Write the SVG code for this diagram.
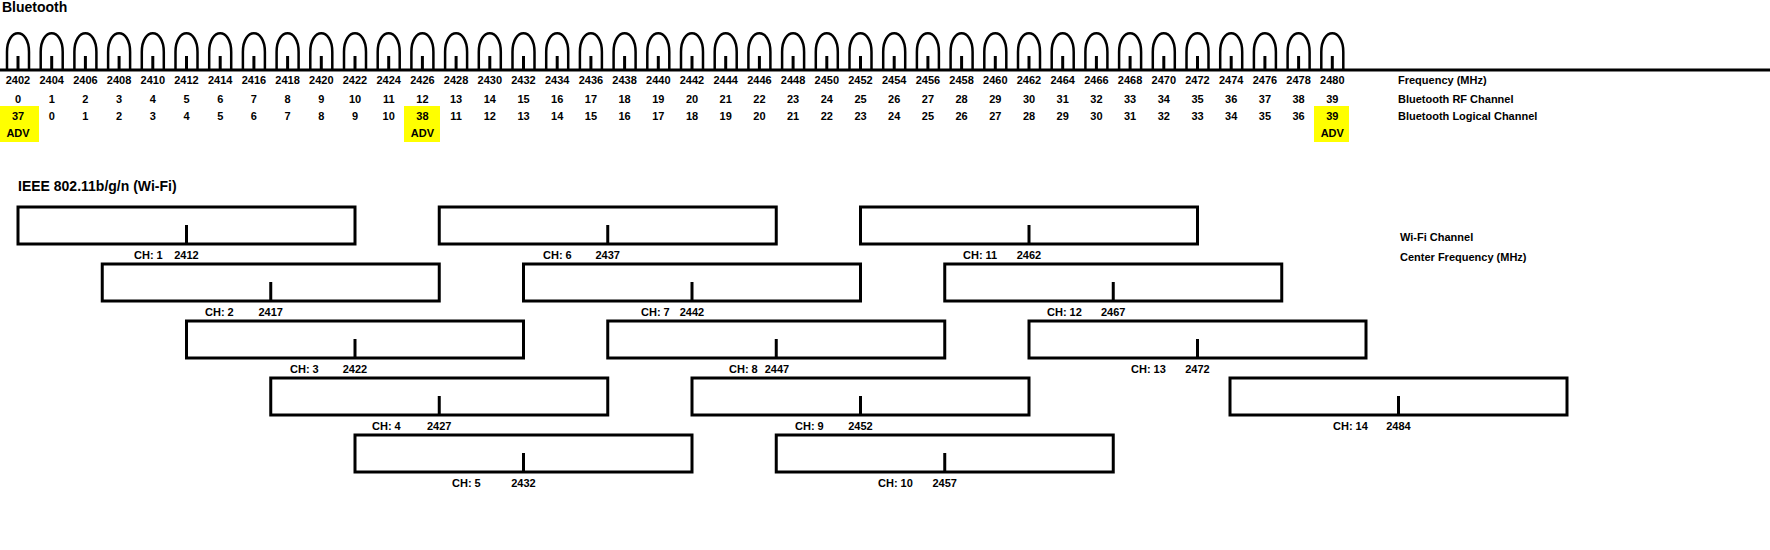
<svg xmlns="http://www.w3.org/2000/svg" xmlns:xlink="http://www.w3.org/1999/xlink" width="1770" height="550" viewBox="0 0 1770 550">
<style>
text{font-family:"Liberation Sans",Arial,sans-serif;font-weight:bold;font-size:11px;fill:#000}
.c{text-anchor:middle}
.t{font-size:14px}
.bx{fill:none;stroke:#000;stroke-width:3}
.st{stroke:#000;stroke-width:3}
.arc{fill:none;stroke:#000;stroke-width:2.5}
</style>
<defs>
<g id="bump"><path class="arc" d="M-11,70 V52 C-11,27 11,27 11,52 V70"/><line class="st" x1="0" y1="56" x2="0" y2="70"/></g>
<g id="wbox"><rect class="bx" x="-168.5" y="0" width="337" height="37"/><line class="st" x1="0" y1="18" x2="0" y2="37"/></g>
</defs>
<rect x="0" y="0" width="1770" height="550" fill="#fff"/>
<text class="t" x="2" y="12">Bluetooth</text>
<text class="t" x="18" y="191">IEEE 802.11b/g/n (Wi-Fi)</text>
<g id="bt-highlights" fill="#ffff00">
<rect x="0" y="106" width="39" height="36"/><rect x="404" y="106" width="36" height="36"/><rect x="1314" y="106" width="35" height="36"/>
</g>
<g id="connectors">
<line class="st" x1="0" y1="70" x2="1770" y2="70"/>
<use xlink:href="#bump" x="18"/><use xlink:href="#bump" x="51.7"/><use xlink:href="#bump" x="85.4"/><use xlink:href="#bump" x="119.1"/><use xlink:href="#bump" x="152.8"/><use xlink:href="#bump" x="186.5"/><use xlink:href="#bump" x="220.2"/><use xlink:href="#bump" x="253.9"/><use xlink:href="#bump" x="287.6"/><use xlink:href="#bump" x="321.3"/><use xlink:href="#bump" x="355"/><use xlink:href="#bump" x="388.7"/><use xlink:href="#bump" x="422.4"/><use xlink:href="#bump" x="456.1"/><use xlink:href="#bump" x="489.8"/><use xlink:href="#bump" x="523.5"/><use xlink:href="#bump" x="557.2"/><use xlink:href="#bump" x="590.9"/><use xlink:href="#bump" x="624.6"/><use xlink:href="#bump" x="658.3"/><use xlink:href="#bump" x="692"/><use xlink:href="#bump" x="725.7"/><use xlink:href="#bump" x="759.4"/><use xlink:href="#bump" x="793.1"/><use xlink:href="#bump" x="826.8"/><use xlink:href="#bump" x="860.5"/><use xlink:href="#bump" x="894.2"/><use xlink:href="#bump" x="927.9"/><use xlink:href="#bump" x="961.6"/><use xlink:href="#bump" x="995.3"/><use xlink:href="#bump" x="1029"/><use xlink:href="#bump" x="1062.7"/><use xlink:href="#bump" x="1096.4"/><use xlink:href="#bump" x="1130.1"/><use xlink:href="#bump" x="1163.8"/><use xlink:href="#bump" x="1197.5"/><use xlink:href="#bump" x="1231.2"/><use xlink:href="#bump" x="1264.9"/><use xlink:href="#bump" x="1298.6"/><use xlink:href="#bump" x="1332.3"/>
</g>
<g id="bt-freq">
<text class="c" x="18" y="84">2402</text><text class="c" x="51.7" y="84">2404</text><text class="c" x="85.4" y="84">2406</text><text class="c" x="119.1" y="84">2408</text><text class="c" x="152.8" y="84">2410</text><text class="c" x="186.5" y="84">2412</text><text class="c" x="220.2" y="84">2414</text><text class="c" x="253.9" y="84">2416</text><text class="c" x="287.6" y="84">2418</text><text class="c" x="321.3" y="84">2420</text><text class="c" x="355" y="84">2422</text><text class="c" x="388.7" y="84">2424</text><text class="c" x="422.4" y="84">2426</text><text class="c" x="456.1" y="84">2428</text><text class="c" x="489.8" y="84">2430</text><text class="c" x="523.5" y="84">2432</text><text class="c" x="557.2" y="84">2434</text><text class="c" x="590.9" y="84">2436</text><text class="c" x="624.6" y="84">2438</text><text class="c" x="658.3" y="84">2440</text><text class="c" x="692" y="84">2442</text><text class="c" x="725.7" y="84">2444</text><text class="c" x="759.4" y="84">2446</text><text class="c" x="793.1" y="84">2448</text><text class="c" x="826.8" y="84">2450</text><text class="c" x="860.5" y="84">2452</text><text class="c" x="894.2" y="84">2454</text><text class="c" x="927.9" y="84">2456</text><text class="c" x="961.6" y="84">2458</text><text class="c" x="995.3" y="84">2460</text><text class="c" x="1029" y="84">2462</text><text class="c" x="1062.7" y="84">2464</text><text class="c" x="1096.4" y="84">2466</text><text class="c" x="1130.1" y="84">2468</text><text class="c" x="1163.8" y="84">2470</text><text class="c" x="1197.5" y="84">2472</text><text class="c" x="1231.2" y="84">2474</text><text class="c" x="1264.9" y="84">2476</text><text class="c" x="1298.6" y="84">2478</text><text class="c" x="1332.3" y="84">2480</text>
</g>
<g id="bt-rf">
<text class="c" x="18" y="103">0</text><text class="c" x="51.7" y="103">1</text><text class="c" x="85.4" y="103">2</text><text class="c" x="119.1" y="103">3</text><text class="c" x="152.8" y="103">4</text><text class="c" x="186.5" y="103">5</text><text class="c" x="220.2" y="103">6</text><text class="c" x="253.9" y="103">7</text><text class="c" x="287.6" y="103">8</text><text class="c" x="321.3" y="103">9</text><text class="c" x="355" y="103">10</text><text class="c" x="388.7" y="103">11</text><text class="c" x="422.4" y="103">12</text><text class="c" x="456.1" y="103">13</text><text class="c" x="489.8" y="103">14</text><text class="c" x="523.5" y="103">15</text><text class="c" x="557.2" y="103">16</text><text class="c" x="590.9" y="103">17</text><text class="c" x="624.6" y="103">18</text><text class="c" x="658.3" y="103">19</text><text class="c" x="692" y="103">20</text><text class="c" x="725.7" y="103">21</text><text class="c" x="759.4" y="103">22</text><text class="c" x="793.1" y="103">23</text><text class="c" x="826.8" y="103">24</text><text class="c" x="860.5" y="103">25</text><text class="c" x="894.2" y="103">26</text><text class="c" x="927.9" y="103">27</text><text class="c" x="961.6" y="103">28</text><text class="c" x="995.3" y="103">29</text><text class="c" x="1029" y="103">30</text><text class="c" x="1062.7" y="103">31</text><text class="c" x="1096.4" y="103">32</text><text class="c" x="1130.1" y="103">33</text><text class="c" x="1163.8" y="103">34</text><text class="c" x="1197.5" y="103">35</text><text class="c" x="1231.2" y="103">36</text><text class="c" x="1264.9" y="103">37</text><text class="c" x="1298.6" y="103">38</text><text class="c" x="1332.3" y="103">39</text>
</g>
<g id="bt-logical">
<text class="c" x="18" y="120">37</text><text class="c" x="51.7" y="120">0</text><text class="c" x="85.4" y="120">1</text><text class="c" x="119.1" y="120">2</text><text class="c" x="152.8" y="120">3</text><text class="c" x="186.5" y="120">4</text><text class="c" x="220.2" y="120">5</text><text class="c" x="253.9" y="120">6</text><text class="c" x="287.6" y="120">7</text><text class="c" x="321.3" y="120">8</text><text class="c" x="355" y="120">9</text><text class="c" x="388.7" y="120">10</text><text class="c" x="422.4" y="120">38</text><text class="c" x="456.1" y="120">11</text><text class="c" x="489.8" y="120">12</text><text class="c" x="523.5" y="120">13</text><text class="c" x="557.2" y="120">14</text><text class="c" x="590.9" y="120">15</text><text class="c" x="624.6" y="120">16</text><text class="c" x="658.3" y="120">17</text><text class="c" x="692" y="120">18</text><text class="c" x="725.7" y="120">19</text><text class="c" x="759.4" y="120">20</text><text class="c" x="793.1" y="120">21</text><text class="c" x="826.8" y="120">22</text><text class="c" x="860.5" y="120">23</text><text class="c" x="894.2" y="120">24</text><text class="c" x="927.9" y="120">25</text><text class="c" x="961.6" y="120">26</text><text class="c" x="995.3" y="120">27</text><text class="c" x="1029" y="120">28</text><text class="c" x="1062.7" y="120">29</text><text class="c" x="1096.4" y="120">30</text><text class="c" x="1130.1" y="120">31</text><text class="c" x="1163.8" y="120">32</text><text class="c" x="1197.5" y="120">33</text><text class="c" x="1231.2" y="120">34</text><text class="c" x="1264.9" y="120">35</text><text class="c" x="1298.6" y="120">36</text><text class="c" x="1332.3" y="120">39</text>
<text class="c" x="18" y="137">ADV</text><text class="c" x="422.4" y="137">ADV</text><text class="c" x="1332.3" y="137">ADV</text>
</g>
<g id="legend">
<text x="1398" y="84">Frequency (MHz)</text><text x="1398" y="103">Bluetooth RF Channel</text><text x="1398" y="120">Bluetooth Logical Channel</text>
<text x="1400" y="241">Wi-Fi Channel</text><text x="1400" y="261">Center Frequency (MHz)</text>
</g>
<g id="ch1"><use xlink:href="#wbox" x="186.5" y="207"/><text x="134" y="259">CH: 1</text><text class="c" x="186.5" y="259">2412</text></g>
<g id="ch2"><use xlink:href="#wbox" x="270.75" y="264"/><text x="205" y="316">CH: 2</text><text class="c" x="270.75" y="316">2417</text></g>
<g id="ch3"><use xlink:href="#wbox" x="355" y="321"/><text x="290" y="373">CH: 3</text><text class="c" x="355" y="373">2422</text></g>
<g id="ch4"><use xlink:href="#wbox" x="439.25" y="378"/><text x="372" y="430">CH: 4</text><text class="c" x="439.25" y="430">2427</text></g>
<g id="ch5"><use xlink:href="#wbox" x="523.5" y="435"/><text x="452" y="487">CH: 5</text><text class="c" x="523.5" y="487">2432</text></g>
<g id="ch6"><use xlink:href="#wbox" x="607.75" y="207"/><text x="543" y="259">CH: 6</text><text class="c" x="607.75" y="259">2437</text></g>
<g id="ch7"><use xlink:href="#wbox" x="692" y="264"/><text x="641" y="316">CH: 7</text><text class="c" x="692" y="316">2442</text></g>
<g id="ch8"><use xlink:href="#wbox" x="776.25" y="321"/><text x="729" y="373">CH: 8</text><text class="c" x="777" y="373">2447</text></g>
<g id="ch9"><use xlink:href="#wbox" x="860.5" y="378"/><text x="795" y="430">CH: 9</text><text class="c" x="860.5" y="430">2452</text></g>
<g id="ch10"><use xlink:href="#wbox" x="944.75" y="435"/><text x="878" y="487">CH: 10</text><text class="c" x="944.75" y="487">2457</text></g>
<g id="ch11"><use xlink:href="#wbox" x="1029" y="207"/><text x="963" y="259">CH: 11</text><text class="c" x="1029" y="259">2462</text></g>
<g id="ch12"><use xlink:href="#wbox" x="1113.25" y="264"/><text x="1047" y="316">CH: 12</text><text class="c" x="1113.25" y="316">2467</text></g>
<g id="ch13"><use xlink:href="#wbox" x="1197.5" y="321"/><text x="1131" y="373">CH: 13</text><text class="c" x="1197.5" y="373">2472</text></g>
<g id="ch14"><use xlink:href="#wbox" x="1398.5" y="378"/><text x="1333" y="430">CH: 14</text><text class="c" x="1398.5" y="430">2484</text></g>
</svg>
